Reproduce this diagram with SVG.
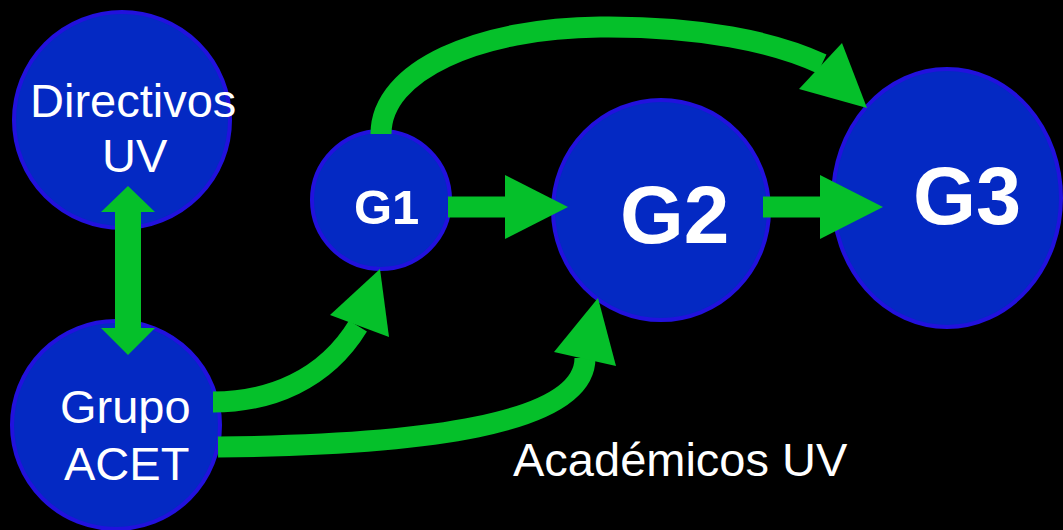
<svg xmlns="http://www.w3.org/2000/svg" width="1063" height="530" viewBox="0 0 1063 530">
<style>
.node{fill:#0429C3;stroke:#2211DD;stroke-width:4}
.lbl{fill:#ffffff;font-family:"Liberation Sans",Arial,sans-serif}
.b{font-weight:bold}
.shaft{fill:none;stroke:#05C02A;stroke-width:21}
.head{fill:#05C02A}
</style>
<rect width="1063" height="530" fill="#000000"/>
<g id="directivos">
<circle class="node" cx="122" cy="120" r="108"/>
<text class="lbl" x="30" y="117" font-size="47">Directivos</text>
<text class="lbl" x="102" y="172" font-size="47">UV</text>
</g>
<g id="grupo">
<circle class="node" cx="116" cy="425" r="104"/>
<text class="lbl" x="60" y="423" font-size="47">Grupo</text>
<text class="lbl" x="64" y="480" font-size="47">ACET</text>
</g>
<g id="g1">
<circle class="node" cx="381" cy="200" r="69"/>
<text class="lbl b" x="354" y="224" font-size="49">G1</text>
</g>
<g id="g2">
<ellipse class="node" cx="661" cy="210" rx="108" ry="110"/>
<text class="lbl b" x="620" y="243" font-size="82">G2</text>
</g>
<g id="g3">
<ellipse class="node" cx="947" cy="198" rx="114" ry="129"/>
<text class="lbl b" x="913" y="224" font-size="81">G3</text>
</g>
<g id="connectors">
<polygon class="head" points="128,186 155,212 141,212 141,328 155,328 128,355 101,328 115,328 115,212 101,212"/>
<path class="shaft" d="M448,207 H506"/>
<polygon class="head" points="505,175 568,207 505,239"/>
<path class="shaft" d="M763,207 H821"/>
<polygon class="head" points="820,175 883,207 820,239"/>
<path class="shaft" d="M381,134 C381,70 480,28 600,27 C700,26 775,42 822,64"/>
<polygon class="head" points="799,89 842,43 867,108"/>
<path class="shaft" d="M213,402 C270,402 325,380 358,326"/>
<polygon class="head" points="330,315 389,337 380,269"/>
<path class="shaft" d="M218,447 C420,445 585,425 585,358"/>
<polygon class="head" points="554,352 616,366 598,298"/>
</g>
<text class="lbl" x="513" y="476" font-size="47">Académicos UV</text>
</svg>
